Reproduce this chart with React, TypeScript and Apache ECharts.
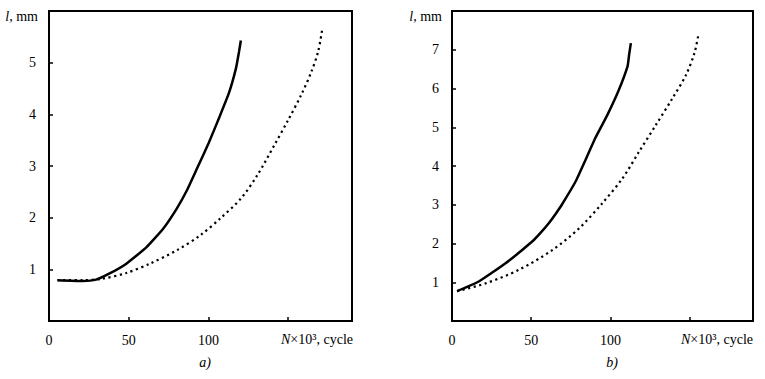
import React, { useEffect, useRef } from "react";
import * as echarts from "echarts";

// Panel a) — solid and dotted curves (N×10^3 cycles, l mm)
const aSolidX = [5.3, 21, 29.5, 38, 48.5, 61.2, 71.7, 80.2, 86.5, 92.8, 100.2, 106.5, 112.9, 117.3, 119.2, 120.3];
const aSolidY = [0.79, 0.775, 0.8, 0.92, 1.11, 1.43, 1.79, 2.18, 2.53, 2.95, 3.45, 3.92, 4.42, 4.9, 5.22, 5.43];
const aDotX = [5.3, 21, 33.8, 48.5, 63.3, 80.2, 94.9, 107.6, 120.3, 130.8, 141.4, 149.8, 158.2, 164.6, 168.8, 171.3];
const aDotY = [0.79, 0.79, 0.82, 0.93, 1.11, 1.37, 1.66, 1.99, 2.37, 2.83, 3.41, 3.88, 4.38, 4.83, 5.22, 5.64];

// Panel b)
const bSolidX = [3.2, 16.9, 33.8, 50.6, 56, 61.2, 65.5, 69.6, 78, 84.4, 90.7, 98.1, 104.9, 110.8, 111.8, 112.9];
const bSolidY = [0.77, 1.02, 1.49, 2.05, 2.28, 2.53, 2.77, 3.02, 3.6, 4.17, 4.74, 5.32, 5.92, 6.57, 6.87, 7.17];
const bDotX = [3.2, 21.1, 42.2, 63.3, 80.2, 94.9, 107.6, 118.1, 128.7, 139.2, 147.7, 153, 155.5];
const bDotY = [0.77, 0.97, 1.32, 1.83, 2.39, 3.04, 3.68, 4.37, 5.06, 5.75, 6.35, 6.91, 7.38];

const xTickLabels = [0, 50, 100];
const aYTickLabels = [1, 2, 3, 4, 5];
const bYTickLabels = [1, 2, 3, 4, 5, 6, 7];

const FONT = "Liberation Serif, Times New Roman, serif";

const zip = (xs: number[], ys: number[]) => xs.map((x, i) => [x, ys[i]]);

export default function App() {
  const ref = useRef<HTMLDivElement>(null);
  useEffect(() => {
    document.body.style.margin = "0";
    const chart = echarts.init(ref.current!, null, { renderer: "svg" });
    const axisCommon = {
      axisLine: { show: true, lineStyle: { color: "#000", width: 2 } },
      axisTick: { show: true, inside: true, length: 4, lineStyle: { color: "#000", width: 1.5 } },
      splitLine: { show: false },
    };
    const xAxis = (gi: number) => ({
      type: "value",
      gridIndex: gi,
      min: 0,
      max: 190,
      interval: 50,
      ...axisCommon,
      axisLabel: {
        color: "#000",
        fontFamily: FONT,
        fontSize: 14,
        margin: 12,
        showMaxLabel: false,
        formatter: (v: number) => (xTickLabels.includes(v) ? String(v) : ""),
      },
    });
    const yAxis = (gi: number, max: number, labels: number[]) => ({
      type: "value",
      gridIndex: gi,
      min: 0,
      max,
      interval: 1,
      ...axisCommon,
      axisLabel: {
        color: "#000",
        fontFamily: FONT,
        fontSize: 14,
        margin: 13,
        formatter: (v: number) => (labels.includes(v) ? String(v) : ""),
      },
    });
    const solid = (xi: number, data: number[][]) => ({
      type: "line",
      xAxisIndex: xi,
      yAxisIndex: xi,
      data,
      showSymbol: false,
      smooth: 0.15,
      lineStyle: { color: "#000", width: 2.5 },
    });
    const dotted = (xi: number, data: number[][]) => ({
      type: "line",
      xAxisIndex: xi,
      yAxisIndex: xi,
      data,
      showSymbol: false,
      smooth: 0.3,
      lineStyle: { color: "#000", width: 2.2, type: [2.2, 3.5] },
    });
    const lbl = (x: number, y: number, text: string, align: string) => ({
      type: "text",
      x,
      y,
      style: {
        text,
        align,
        verticalAlign: "middle",
        fontFamily: FONT,
        fontSize: 14,
        fill: "#000",
        rich: {
          i: { fontStyle: "italic", fontFamily: FONT, fontSize: 14, fill: "#000" },
          n: { fontFamily: FONT, fontSize: 14, fill: "#000" },
        },
      },
    });
    chart.setOption({
      animation: false,
      backgroundColor: "#fff",
      textStyle: { fontFamily: FONT },
      grid: [
        { left: 49, right: 413, top: 11, bottom: 58, show: true, borderColor: "#000", borderWidth: 2 },
        { left: 452, right: 12, top: 11, bottom: 58, show: true, borderColor: "#000", borderWidth: 2 },
      ],
      xAxis: [xAxis(0), xAxis(1)],
      yAxis: [yAxis(0, 6, aYTickLabels), yAxis(1, 8, bYTickLabels)],
      series: [
        dotted(0, zip(aDotX, aDotY)),
        solid(0, zip(aSolidX, aSolidY)),
        dotted(1, zip(bDotX, bDotY)),
        solid(1, zip(bSolidX, bSolidY)),
      ],
      graphic: [
        lbl(38, 16, "{i|l}{n|, mm}", "right"),
        lbl(442, 16, "{i|l}{n|, mm}", "right"),
        lbl(317, 339, "{i|N}{n|×10³, cycle}", "center"),
        lbl(717, 339, "{i|N}{n|×10³, cycle}", "center"),
        lbl(205, 362, "{i|a)}", "center"),
        lbl(612, 362, "{i|b)}", "center"),
      ],
    });
    return () => chart.dispose();
  }, []);
  return <div ref={ref} style={{ width: 765, height: 379 }} />;
}
